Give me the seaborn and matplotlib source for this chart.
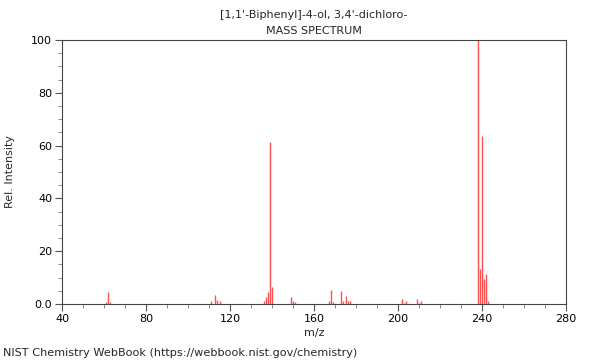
import numpy as np
import pandas as pd
import seaborn as sns
import matplotlib

matplotlib.use('Agg')
import matplotlib.pyplot as plt
from matplotlib.ticker import MultipleLocator

# peak list
mz = [61, 62, 63, 111, 113, 114, 115, 136, 137, 138, 139, 140,
      149, 150, 151, 167, 168, 169, 173, 174, 175, 176, 177,
      202, 203, 204, 209, 210, 211, 238, 239, 240, 241, 242, 243]
intensity = [0.8, 4.4, 0.8, 1.2, 3.4, 1.5, 1.0, 1.1, 2.8, 4.7, 61.2, 6.3,
             2.6, 1.1, 0.9, 1.0, 5.3, 0.7, 4.9, 1.2, 3.0, 1.0, 1.0,
             1.9, 0.5, 1.3, 1.8, 0.5, 1.1, 100.0, 13.4, 63.6, 9.3, 11.2, 1.2]

title = "[1,1'-Biphenyl]-4-ol, 3,4'-dichloro-\nMASS SPECTRUM"
x_ticks = [40, 80, 120, 160, 200, 240, 280]
y_ticks = [0, 20, 40, 60, 80, 100]
y_tick_labels = ["0.0", "20", "40", "60", "80", "100"]

df = pd.DataFrame({"mz": mz, "intensity": intensity})

sns.set_theme(style="ticks")
plt.rcParams['font.family'] = ['DejaVu Sans']

fig = plt.figure(figsize=(6, 3.6), dpi=100)
ax = fig.add_axes([62 / 600, 1 - 304 / 360, 504 / 600, 264 / 360])

ax.vlines(df["mz"], 0, df["intensity"], color="#ff5050", linewidth=1.0)

ax.set_xlim(40, 280)
ax.set_ylim(0, 100)
ax.set_xticks(x_ticks)
ax.set_yticks(y_ticks)
ax.set_yticklabels(y_tick_labels)
ax.xaxis.set_minor_locator(MultipleLocator(10))
ax.yaxis.set_minor_locator(MultipleLocator(5))

ax.tick_params(axis="both", which="major", labelsize=8, length=5, width=0.8,
               color="#555555", labelcolor="black", pad=2)
ax.tick_params(axis="both", which="minor", length=3, width=0.6, color="#777777")

for side in ["top", "right", "left", "bottom"]:
    ax.spines[side].set_visible(True)
    ax.spines[side].set_color("#444444")
    ax.spines[side].set_linewidth(0.8)

ax.set_xlabel("m/z", fontsize=8, labelpad=3)
ax.set_ylabel("Rel. Intensity", fontsize=8, labelpad=12)
ax.set_title(title, fontsize=8, linespacing=1.75, pad=4)

fig.text(3 / 600, 1 - 353 / 360, "NIST Chemistry WebBook (https://webbook.nist.gov/chemistry)",
         fontsize=8.1, ha="left", va="center")

fig.savefig("out.png", dpi=100)
